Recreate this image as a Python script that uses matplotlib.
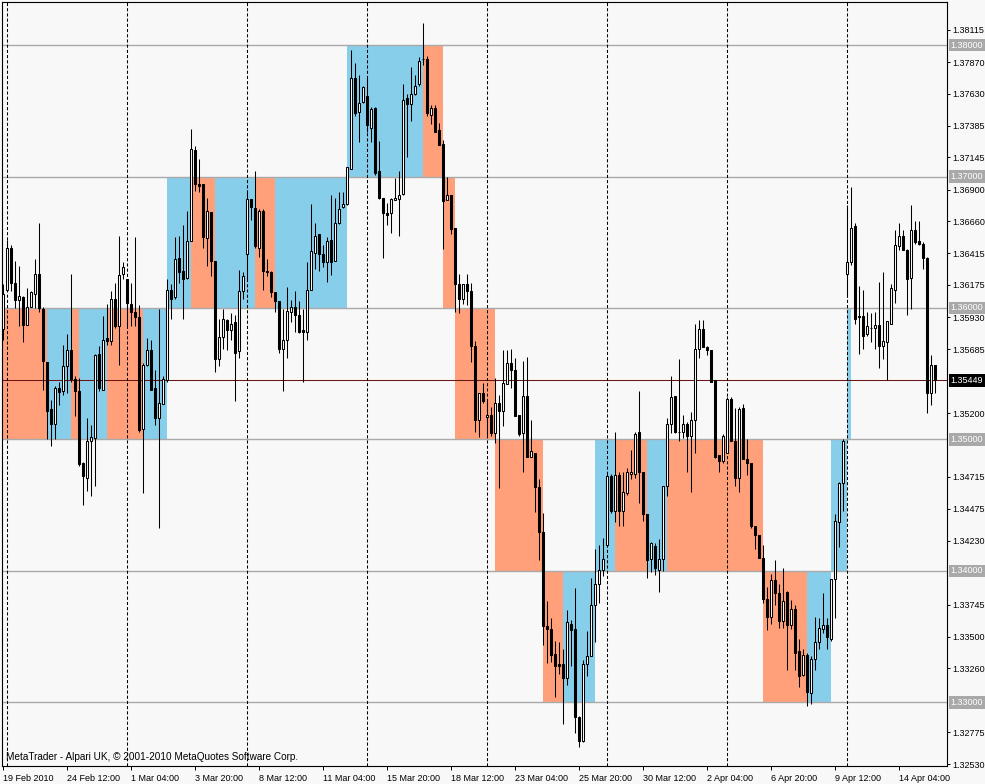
import matplotlib
matplotlib.use("Agg")
import matplotlib.pyplot as plt
from matplotlib.transforms import blended_transform_factory

# 4H candles, bar 0 = 19 Feb 2010 20:00
opens = [
    1.3584, 1.3614, 1.3646, 1.3619, 1.3606, 1.3608, 1.3587, 1.3601, 1.3611, 1.3626,
    1.3599, 1.3559, 1.3523, 1.3512, 1.3539, 1.3537, 1.3556, 1.3568, 1.3546, 1.3537,
    1.3482, 1.3471, 1.3499, 1.3501, 1.3565, 1.3538, 1.3577, 1.3575, 1.3607, 1.3586,
    1.3626, 1.3622, 1.3603, 1.3597, 1.3593, 1.3508, 1.3557, 1.3568, 1.3539, 1.3516,
    1.3527, 1.3545, 1.3614, 1.3608, 1.3638, 1.3628, 1.3623, 1.3651, 1.3720, 1.3694,
    1.3694, 1.3653, 1.3673, 1.3636, 1.3561, 1.3578, 1.3591, 1.3583, 1.3589, 1.3567,
    1.3613, 1.3641, 1.3683, 1.3676, 1.3646, 1.3674, 1.3628, 1.3627, 1.3612, 1.3605,
    1.3569, 1.3576, 1.3597, 1.3601, 1.3595, 1.3583, 1.3582, 1.3614, 1.3642, 1.3656,
    1.3641, 1.3635, 1.3652, 1.3636, 1.3665, 1.3677, 1.3679, 1.3706, 1.3775, 1.3749,
    1.3757, 1.3761, 1.3737, 1.3752, 1.3704, 1.3684, 1.3672, 1.3672, 1.3682, 1.3683,
    1.3687, 1.3760, 1.3755, 1.3763, 1.3770, 1.3789, 1.3789, 1.3747, 1.3752, 1.3735,
    1.3725, 1.3682, 1.3686, 1.3661, 1.3618, 1.3607, 1.3618, 1.3613, 1.3571, 1.3515,
    1.3535, 1.3517, 1.3519, 1.3505, 1.3528, 1.3522, 1.3542, 1.3558, 1.3553, 1.3519,
    1.3505, 1.3533, 1.3487, 1.3490, 1.3464, 1.3430, 1.3358, 1.3356, 1.3337, 1.3329,
    1.3329, 1.3319, 1.3360, 1.3356, 1.3289, 1.3271, 1.3329, 1.3335, 1.3374, 1.3390,
    1.3401, 1.3420, 1.3472, 1.3446, 1.3473, 1.3446, 1.3459, 1.3474, 1.3474, 1.3506,
    1.3475, 1.3443, 1.3409, 1.3419, 1.3401, 1.3409, 1.3465, 1.3512, 1.3533, 1.3506,
    1.3506, 1.3512, 1.3503, 1.3515, 1.3569, 1.3584, 1.3570, 1.3568, 1.3545, 1.3488,
    1.3484, 1.3490, 1.3531, 1.3499, 1.3471, 1.3524, 1.3485, 1.3482, 1.3434, 1.3427,
    1.3410, 1.3379, 1.3365, 1.3393, 1.3383, 1.3362, 1.3384, 1.3359, 1.3371, 1.3339,
    1.3321, 1.3336, 1.3307, 1.3333, 1.3346, 1.3356, 1.3359, 1.3348, 1.3394, 1.3437,
    1.3467, 1.3626, 1.3635, 1.3662, 1.3594, 1.3594, 1.3580, 1.3585, 1.3585, 1.3587,
    1.3571, 1.3574, 1.3588, 1.3614, 1.3647, 1.3655, 1.3644, 1.3623, 1.3659, 1.3651,
    1.3649, 1.3638, 1.3535, 1.3557,
]
highs = [
    1.3618, 1.3652, 1.3648, 1.3636, 1.3632, 1.3609, 1.3615, 1.3613, 1.3637, 1.3665,
    1.3601, 1.3559, 1.3530, 1.3541, 1.3544, 1.3572, 1.3580, 1.3626, 1.3548, 1.3547,
    1.3483, 1.3516, 1.3511, 1.3565, 1.3571, 1.3594, 1.3603, 1.3613, 1.3619, 1.3655,
    1.3635, 1.3622, 1.3619, 1.3654, 1.3602, 1.3558, 1.3577, 1.3576, 1.3553, 1.3599,
    1.3548, 1.3622, 1.3618, 1.3654, 1.3655, 1.3663, 1.3674, 1.3736, 1.3723, 1.3713,
    1.3694, 1.3684, 1.3673, 1.3636, 1.3592, 1.3599, 1.3592, 1.3596, 1.3595, 1.3629,
    1.3627, 1.3690, 1.3683, 1.3704, 1.3675, 1.3675, 1.3637, 1.3628, 1.3612, 1.3605,
    1.3599, 1.3616, 1.3606, 1.3613, 1.3605, 1.3599, 1.3635, 1.3679, 1.3665, 1.3656,
    1.3648, 1.3654, 1.3686, 1.3684, 1.3688, 1.3688, 1.3707, 1.3796, 1.3786, 1.3777,
    1.3769, 1.3775, 1.3753, 1.3753, 1.3727, 1.3684, 1.3680, 1.3684, 1.3699, 1.3704,
    1.3770, 1.3763, 1.3783, 1.3777, 1.3791, 1.3817, 1.3792, 1.3754, 1.3754, 1.3741,
    1.3728, 1.3700, 1.3686, 1.3661, 1.3626, 1.3618, 1.3626, 1.3619, 1.3575, 1.3535,
    1.3543, 1.3529, 1.3525, 1.3547, 1.3534, 1.3568, 1.3568, 1.3569, 1.3562, 1.3519,
    1.3560, 1.3563, 1.3515, 1.3490, 1.3470, 1.3444, 1.3377, 1.3364, 1.3347, 1.3346,
    1.3341, 1.3370, 1.3363, 1.3387, 1.3290, 1.3332, 1.3354, 1.3395, 1.3417, 1.3420,
    1.3425, 1.3475, 1.3474, 1.3506, 1.3475, 1.3475, 1.3478, 1.3492, 1.3506, 1.3537,
    1.3475, 1.3443, 1.3422, 1.3421, 1.3424, 1.3465, 1.3516, 1.3548, 1.3533, 1.3561,
    1.3519, 1.3513, 1.3521, 1.3588, 1.3591, 1.3591, 1.3571, 1.3568, 1.3545, 1.3488,
    1.3504, 1.3532, 1.3532, 1.3524, 1.3525, 1.3527, 1.3500, 1.3482, 1.3434, 1.3427,
    1.3420, 1.3388, 1.3398, 1.3408, 1.3390, 1.3402, 1.3385, 1.3378, 1.3374, 1.3348,
    1.3341, 1.3338, 1.3335, 1.3365, 1.3364, 1.3383, 1.3364, 1.3394, 1.3443, 1.3468,
    1.3500, 1.3678, 1.3692, 1.3665, 1.3617, 1.3614, 1.3597, 1.3596, 1.3597, 1.3620,
    1.3627, 1.3590, 1.3618, 1.3659, 1.3665, 1.3659, 1.3645, 1.3678, 1.3666, 1.3666,
    1.3650, 1.3639, 1.3564, 1.3557,
]
lows = [
    1.3576, 1.3613, 1.3613, 1.3600, 1.3586, 1.3574, 1.3587, 1.3601, 1.3600, 1.3597,
    1.3538, 1.3500, 1.3495, 1.3500, 1.3526, 1.3534, 1.3535, 1.3544, 1.3518, 1.3480,
    1.3450, 1.3461, 1.3457, 1.3465, 1.3537, 1.3538, 1.3572, 1.3572, 1.3585, 1.3557,
    1.3622, 1.3586, 1.3586, 1.3586, 1.3506, 1.3459, 1.3556, 1.3538, 1.3511, 1.3433,
    1.3527, 1.3544, 1.3592, 1.3607, 1.3619, 1.3592, 1.3622, 1.3651, 1.3689, 1.3688,
    1.3646, 1.3632, 1.3624, 1.3551, 1.3556, 1.3569, 1.3568, 1.3576, 1.3529, 1.3562,
    1.3607, 1.3622, 1.3667, 1.3646, 1.3639, 1.3614, 1.3624, 1.3608, 1.3597, 1.3566,
    1.3537, 1.3562, 1.3589, 1.3582, 1.3581, 1.3544, 1.3576, 1.3614, 1.3630, 1.3628,
    1.3631, 1.3620, 1.3625, 1.3636, 1.3664, 1.3676, 1.3678, 1.3706, 1.3746, 1.3726,
    1.3756, 1.3734, 1.3726, 1.3701, 1.3683, 1.3638, 1.3663, 1.3657, 1.3682, 1.3655,
    1.3686, 1.3715, 1.3742, 1.3762, 1.3769, 1.3785, 1.3746, 1.3740, 1.3734, 1.3724,
    1.3645, 1.3682, 1.3656, 1.3597, 1.3596, 1.3603, 1.3602, 1.3559, 1.3506, 1.3502,
    1.3528, 1.3503, 1.3503, 1.3497, 1.3463, 1.3510, 1.3542, 1.3539, 1.3518, 1.3503,
    1.3475, 1.3487, 1.3487, 1.3445, 1.3408, 1.3344, 1.3330, 1.3331, 1.3304, 1.3322,
    1.3284, 1.3313, 1.3328, 1.3277, 1.3266, 1.3270, 1.3320, 1.3335, 1.3346, 1.3376,
    1.3396, 1.3419, 1.3444, 1.3437, 1.3434, 1.3434, 1.3458, 1.3470, 1.3471, 1.3452,
    1.3438, 1.3395, 1.3399, 1.3397, 1.3384, 1.3400, 1.3457, 1.3505, 1.3505, 1.3499,
    1.3501, 1.3475, 1.3460, 1.3490, 1.3562, 1.3570, 1.3564, 1.3544, 1.3486, 1.3475,
    1.3482, 1.3490, 1.3499, 1.3465, 1.3460, 1.3485, 1.3473, 1.3433, 1.3417, 1.3410,
    1.3376, 1.3355, 1.3360, 1.3374, 1.3357, 1.3357, 1.3325, 1.3356, 1.3325, 1.3312,
    1.3320, 1.3297, 1.3299, 1.3325, 1.3341, 1.3353, 1.3341, 1.3347, 1.3364, 1.3418,
    1.3446, 1.3608, 1.3633, 1.3588, 1.3565, 1.3569, 1.3579, 1.3574, 1.3569, 1.3554,
    1.3561, 1.3545, 1.3588, 1.3604, 1.3644, 1.3644, 1.3595, 1.3599, 1.3649, 1.3648,
    1.3630, 1.3520, 1.3526, 1.3535,
]
closes = [
    1.3611, 1.3646, 1.3619, 1.3606, 1.3609, 1.3587, 1.3601, 1.3612, 1.3626, 1.3600,
    1.3560, 1.3522, 1.3512, 1.3539, 1.3536, 1.3556, 1.3568, 1.3546, 1.3537, 1.3481,
    1.3472, 1.3499, 1.3502, 1.3564, 1.3539, 1.3576, 1.3575, 1.3607, 1.3586, 1.3625,
    1.3631, 1.3604, 1.3597, 1.3593, 1.3507, 1.3557, 1.3568, 1.3538, 1.3516, 1.3528,
    1.3546, 1.3614, 1.3607, 1.3637, 1.3627, 1.3622, 1.3651, 1.3721, 1.3694, 1.3693,
    1.3654, 1.3674, 1.3636, 1.3561, 1.3578, 1.3592, 1.3583, 1.3588, 1.3566, 1.3613,
    1.3624, 1.3683, 1.3677, 1.3647, 1.3674, 1.3628, 1.3627, 1.3612, 1.3605, 1.3569,
    1.3576, 1.3598, 1.3601, 1.3595, 1.3582, 1.3582, 1.3614, 1.3643, 1.3655, 1.3641,
    1.3635, 1.3651, 1.3635, 1.3665, 1.3675, 1.3679, 1.3707, 1.3775, 1.3748, 1.3756,
    1.3768, 1.3739, 1.3751, 1.3703, 1.3684, 1.3672, 1.3671, 1.3683, 1.3684, 1.3686,
    1.3758, 1.3755, 1.3763, 1.3769, 1.3788, 1.3789, 1.3748, 1.3752, 1.3734, 1.3724,
    1.3681, 1.3686, 1.3660, 1.3618, 1.3607, 1.3618, 1.3613, 1.3571, 1.3515, 1.3535,
    1.3529, 1.3519, 1.3505, 1.3528, 1.3522, 1.3543, 1.3558, 1.3553, 1.3518, 1.3504,
    1.3533, 1.3487, 1.3491, 1.3464, 1.3430, 1.3358, 1.3356, 1.3336, 1.3328, 1.3328,
    1.3319, 1.3361, 1.3355, 1.3289, 1.3271, 1.3329, 1.3335, 1.3374, 1.3390, 1.3401,
    1.3409, 1.3472, 1.3446, 1.3473, 1.3446, 1.3460, 1.3475, 1.3475, 1.3504, 1.3475,
    1.3443, 1.3408, 1.3421, 1.3402, 1.3409, 1.3465, 1.3512, 1.3532, 1.3506, 1.3506,
    1.3512, 1.3503, 1.3515, 1.3569, 1.3584, 1.3570, 1.3568, 1.3544, 1.3487, 1.3484,
    1.3503, 1.3531, 1.3499, 1.3471, 1.3523, 1.3485, 1.3482, 1.3434, 1.3427, 1.3410,
    1.3379, 1.3365, 1.3393, 1.3383, 1.3362, 1.3377, 1.3359, 1.3371, 1.3338, 1.3320,
    1.3336, 1.3308, 1.3333, 1.3346, 1.3357, 1.3359, 1.3350, 1.3394, 1.3438, 1.3467,
    1.3499, 1.3635, 1.3661, 1.3592, 1.3593, 1.3579, 1.3586, 1.3585, 1.3587, 1.3571,
    1.3575, 1.3590, 1.3615, 1.3648, 1.3655, 1.3644, 1.3622, 1.3659, 1.3650, 1.3649,
    1.3638, 1.3535, 1.3557, 1.3545,
]

# 0.01 boxes: start bar, end bar, lower level, rising?
box_start = [-1, 11, 17, 19, 26, 35, 41, 47, 53, 63, 68, 86, 105, 110, 113, 123,
             135, 140, 148, 153, 161, 166, 190, 201, 207, 211]
box_end = [11, 17, 19, 26, 35, 41, 47, 53, 63, 68, 86, 105, 110, 113, 123, 135,
           140, 148, 153, 161, 166, 190, 201, 207, 211, 212]
box_low = [1.35, 1.35, 1.35, 1.35, 1.35, 1.35, 1.36, 1.36, 1.36, 1.36, 1.36, 1.37,
           1.37, 1.36, 1.35, 1.34, 1.33, 1.33, 1.34, 1.34, 1.34, 1.34, 1.33, 1.33,
           1.34, 1.35]
box_up = [0, 1, 0, 1, 0, 1, 1, 0, 1, 0, 1, 1, 0, 0, 0, 0, 0, 1, 1, 0, 1, 0, 0, 1, 1, 1]

levels = [1.33, 1.34, 1.35, 1.36, 1.37, 1.38]
price_ticks = [1.38115, 1.37870, 1.37630, 1.37385, 1.37145, 1.36900, 1.36660,
               1.36415, 1.36175, 1.35930, 1.35685, 1.35200, 1.34715,
               1.34475, 1.34230, 1.33745, 1.33500, 1.33260, 1.32775, 1.32530]
bid = 1.35449

date_bars = [0, 16, 32, 48, 64, 80, 96, 112, 128, 144, 160, 176, 192, 208, 224]
date_labels = ["19 Feb 2010", "24 Feb 12:00", "1 Mar 04:00", "3 Mar 20:00",
               "8 Mar 12:00", "11 Mar 04:00", "15 Mar 20:00", "18 Mar 12:00",
               "23 Mar 04:00", "25 Mar 20:00", "30 Mar 12:00", "2 Apr 04:00",
               "6 Apr 20:00", "9 Apr 12:00", "14 Apr 04:00"]
week_bars = [1, 31, 61, 91, 121, 151, 181, 211]

plt.rcParams['font.family'] = ['Liberation Sans', 'DejaVu Sans']
fs = 6.5
bg = '#f8f8f8'

fig = plt.figure(figsize=(9.85, 7.84), dpi=100)
fig.patch.set_facecolor(bg)
ax = fig.add_axes([2 / 985, 18 / 784, 945 / 985, 764 / 784])
ax.set_facecolor(bg)
ax.set_xlim(-0.325, 235.925)
ax.set_ylim(1.325171, 1.383270)

# boxes
for s, e, lo, up in zip(box_start, box_end, box_low, box_up):
    ax.fill_between([s, e], lo, lo + 0.01, color='#87ceeb' if up else '#ffa07a',
                    lw=0, zorder=1)

for lv in levels:
    ax.axhline(lv, color='#a9a9a9', lw=1.0, zorder=2)
ax.axhline(bid, color='#6b1515', lw=0.75, zorder=2.2)
for wb in week_bars:
    ax.axvline(wb, color='black', lw=0.75, ls=(0, (3, 2)), zorder=2.5)

# candles
xs = list(range(len(closes)))
ax.vlines(xs, lows, highs, color='black', lw=0.75, zorder=4)
bottoms = [min(o, c) for o, c in zip(opens, closes)]
heights = [abs(c - o) for o, c in zip(opens, closes)]
fills = ['white' if c >= o else 'black' for o, c in zip(opens, closes)]
ax.bar(xs, heights, bottom=bottoms, width=0.5, color=fills, edgecolor='black',
       lw=0.75, zorder=5)

# axes look
for sp in ax.spines.values():
    sp.set_color('black')
    sp.set_linewidth(0.8)
ax.yaxis.tick_right()
ax.set_yticks(price_ticks)
ax.set_yticklabels(['%.5f' % t for t in price_ticks])
ax.tick_params(axis='y', length=2.5, width=0.7, pad=1.5, labelsize=fs, direction='out')
ax.set_xticks(date_bars)
ax.set_xticklabels(date_labels)
ax.tick_params(axis='x', length=3, width=0.7, pad=2.5, labelsize=fs, direction='out')
for lab in ax.get_xticklabels():
    lab.set_ha('left')

tr = blended_transform_factory(ax.transAxes, ax.transData)
for lv in levels:
    ax.text(1.0 + 3.5 / 945, lv, '%.5f' % lv, transform=tr, ha='left', va='center',
            fontsize=fs, color='white', zorder=10,
            bbox=dict(boxstyle='square,pad=0.2', fc='#a9a9a9', ec='none'))
ax.text(1.0 + 3.5 / 945, bid, '%.5f' % bid, transform=tr, ha='left', va='center',
        fontsize=fs, color='white', zorder=10,
        bbox=dict(boxstyle='square,pad=0.2', fc='black', ec='none'))

ax.text(4 / 945, 9 / 764, 'MetaTrader - Alpari UK, \u00a9 2001-2010 MetaQuotes Software Corp.',
        transform=ax.transAxes, ha='left', va='center', fontsize=7.2, zorder=10)

fig.savefig('out.png', dpi=100, facecolor=bg)
